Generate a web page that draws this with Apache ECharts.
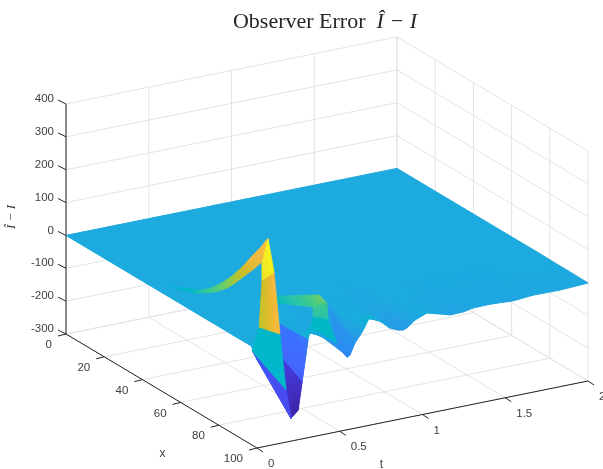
<!DOCTYPE html>
<html><head><meta charset="utf-8">
<style>html,body{margin:0;padding:0;background:#fff}#c{width:603px;height:469px}</style>
<script src="https://cdn.jsdelivr.net/npm/echarts@6/dist/echarts.min.js"></script>
</head><body><div id="c"></div>
<script>
// ---- axis ticks ----
const tTicks = [0, 0.5, 1, 1.5, 2];
const xTicks = [0, 20, 40, 60, 80, 100];
const zTicks = [-300, -200, -100, 0, 100, 200, 300, 400];
const tLabels = ['0', '0.5', '1', '1.5', '2'];
const xLabels = ['0', '20', '40', '60', '80', '100'];
const zLabels = ['-300', '-200', '-100', '0', '100', '200', '300', '400'];

// ---- surface values: rows follow xGrid, columns follow tGrid ----
const tGrid = [0,.1,.205,.248,.272,.308,.326,.435,.514,.544,.562,.592,.64,.683,.77,.804,.852,.882,.906,.955,1.027,1.106,1.166,1.245,1.305,1.408,1.547,1.668,1.831,2];
const xGrid = [0, 50, 65, 75, 85, 92, 97, 100];
const zGrid = [
 [0,0,0,0,0,0,0,0,0,0,0,0,0,0,0,0,0,0,0,0,0,0,0,0,0,0,0,0,0,0],
 [0,0,0,0,0,0,0,0,0,0,0,0,0,0,0,0,0,0,0,0,0,0,0,0,0,0,0,0,0,0],
 [0,0,0,0,0,0,0,0,0,0,0,0,0,0,0,0,0,0,0,0,0,0,0,0,0,0,0,0,0,0],
 [0,0,0,0,0,0,0,-1,-2,-3,-3,-2,-1,0,0,-1,-2,-3,-3,-1,0,0,-1,-1,-1,0,-1,0,0,0],
 [0,0,0,0,0,0,0,-3,-8,-10,-10,-8,-3,2,0,-4,-8,-10,-10,-3,0,-2,-4,-4,-2,-2,-3,-1,-2,-1],
 [0,0,0,0,0,0,0,-8,-20,-25,-25,-15,-5,6,0,-8,-15,-18,-17,-5,0,-3,-8,-7,-4,-3,-5,-3,-3,-1],
 [0,0,0,0,0,0,10,-15,-40,-50,-48,-30,-8,16,0,-14,-24,-26,-24,-7,3,-4,-12,-11,-6,-5,-8,-4,-5,-2],
 [-32,-128,-230,-210,-127,-3,35,-22,-60,-79,-74,-41,-9,32,2,-17,-28,-31,-27,-8,6,-5,-14,-13,-7,-6,-10,-5,-6,-2]
];

// ---- crest running along x near the start: [x, t, z, colour value] ----
const crestBack = [[39,.136,-14,0],[46.3,.136,-10,18],[56.8,.136,17,55],[61,.136,34,80],[65.2,.136,55,110],[70.4,.136,88,135],[75.7,.136,128,165],[80.9,.136,173,205],[86.1,.136,225,240],[90.3,.136,264,245],[94,.136,304,250]];
const crestFront = [[47.5,.08,0,0],[47.5,.08,0,10],[58,.08,21,38],[62.2,.08,32,62],[66.9,.08,49,90],[72.1,.08,71,118],[77.4,.08,100,143],[81.6,.08,130,168],[85.8,.08,163,190],[90.5,.08,200,215],[95.7,.08,243,235]];

// ---- coarse facets of the two large spikes: each is four [x, t, z, colour value] ----
const spikeFacets = [
 // second spike
 [[94,.492,70,-30],[100,.592,-41,-35],[100,.544,-79,-60],[94,.553,-58,-55]],
 [[94,.19,122,50],[94,.444,99.5,135],[94,.408,66.6,100],[94,.19,101,45]],
 [[94,.444,99.5,143],[94,.492,70,120],[94,.408,66.6,110],[94,.408,66.6,110]],
 [[94,.408,66.6,100],[94,.492,70,100],[94,.498,18,75],[94,.408,36,75]],
 [[94,.408,36,38],[94,.498,18,38],[94,.553,-58,30],[100,.326,35,38]],
 // first spike
 [[94,.208,35,-90],[100,.308,-3,-90],[100,.272,-127,-120],[94,.227,-76,-110]],
 [[94,.208,35,-90],[94,.227,-76,-100],[94,.245,-169,-100],[94,.208,5,-90]],
 [[94,.227,-76,-175],[100,.272,-127,-195],[100,.248,-210,-225],[100,.205,-230,-215]],
 [[94,.227,-76,-175],[100,.205,-230,-215],[94,.245,-169,-190],[94,.245,-169,-190]],
 [[88,.109,-57,-140],[94,.245,-169,-150],[100,.205,-230,-150],[100,.205,-230,-150]],
 [[88,.151,11,38],[94,.208,5,30],[94,.245,-169,30],[88,.109,-57,35]],
 [[88,.169,152,195],[94,.172,197,235],[94,.208,5,240],[88,.151,11,185]],
 [[94,.136,301,325],[94,.172,197,315],[88,.169,152,300],[88,.169,204,300]]
];

const colourMin = -220, colourMax = 330;
const parula = [[.2422,.1504,.6603],[.2504,.165,.7076],[.2578,.1818,.7511],[.2647,.1978,.7952],[.2706,.2147,.8364],[.2751,.2342,.871],[.2783,.2559,.8991],[.2803,.2782,.9221],[.2813,.3006,.9414],[.281,.3228,.9579],[.2795,.3447,.9717],[.276,.3667,.9829],[.2699,.3892,.9906],[.2602,.4123,.9952],[.244,.4358,.9988],[.2206,.4603,.9973],[.1963,.4847,.9892],[.1834,.5074,.9798],[.1786,.5289,.9682],[.1764,.5499,.952],[.1687,.5703,.9359],[.154,.5902,.9218],[.146,.6091,.9079],[.138,.6276,.8973],[.1248,.6459,.8883],[.1113,.6635,.8763],[.0952,.6798,.8598],[.0689,.6948,.8394],[.0297,.7082,.8163],[.0036,.7203,.7917],[.0067,.7312,.766],[.0433,.7411,.7394],[.0964,.75,.712],[.1408,.7584,.6842],[.1717,.767,.6554],[.1938,.7758,.6251],[.2161,.7843,.5923],[.247,.7918,.5567],[.2906,.7973,.5188],[.3406,.8008,.4789],[.3909,.8029,.4354],[.4456,.8024,.3909],[.5044,.7993,.348],[.5616,.7942,.3045],[.6174,.7876,.2612],[.672,.7793,.2227],[.7242,.7698,.191],[.7738,.7598,.1646],[.8203,.7498,.1535],[.8634,.7406,.1596],[.9035,.733,.1774],[.9393,.7288,.21],[.9728,.7298,.2394],[.9956,.7434,.2371],[.997,.7659,.2199],[.9952,.7893,.2028],[.9892,.8136,.1885],[.9786,.8386,.1766],[.9676,.8639,.1643],[.961,.889,.1537],[.9597,.9135,.1423],[.9628,.9373,.1265],[.9691,.9606,.1064],[.9769,.9839,.0805]];

function colourOf(v){
  const s = Math.max(0, Math.min(1, (v - colourMin) / (colourMax - colourMin))) * (parula.length - 1);
  const i = Math.min(parula.length - 2, Math.floor(s)), f = s - i;
  const c = parula[i].map((a, k) => Math.round(255 * (a + (parula[i + 1][k] - a) * f)));
  return 'rgb(' + c.join(',') + ')';
}

// MATLAB-style orthographic view of the (x, t, z) box onto the page plane
function project(x, t, z){
  return [66 + 1.91 * x + 165.5 * t, 334 + 1.14 * x - 33.5 * t - (z + 300) * 0.3286];
}

// ---- facet list, back to front ----
const facets = [];
function addQuad(q, n, w){
  const mix = (a, b, f) => a.map((v, i) => v + (b[i] - v) * f);
  for (let i = 0; i < n; i++) for (let j = 0; j < n; j++) {
    const P = (u, v) => mix(mix(q[0], q[1], u), mix(q[3], q[2], u), v);
    const cs = [P(i / n, j / n), P((i + 1) / n, j / n), P((i + 1) / n, (j + 1) / n), P(i / n, (j + 1) / n)];
    facets.push({pts: cs, c: cs.reduce((s, p) => s + p[3], 0) / 4, w: w});
  }
}
for (let r = 0; r < xGrid.length - 1; r++) {
  for (let k = tGrid.length - 2; k >= 0; k--) {
    const V = (a, b) => [xGrid[a], tGrid[b], zGrid[a][b], zGrid[a][b]];
    addQuad([V(r, k), V(r, k + 1), V(r + 1, k + 1), V(r + 1, k)], r >= 4 ? 3 : 1, 1);
  }
}
for (let i = 0; i < crestBack.length - 1; i++) {
  addQuad([crestBack[i], crestBack[i + 1], crestFront[i + 1], crestFront[i]], 4, 0.6);
}
spikeFacets.forEach(q => addQuad(q, 8, 0.8));

// ---- box lines ----
const gridSegs = [];
tTicks.forEach(t => { gridSegs.push([0, t, -300, 0, t, 400]); gridSegs.push([0, t, -300, 100, t, -300]); });
xTicks.forEach(x => { gridSegs.push([x, 2, -300, x, 2, 400]); gridSegs.push([x, 0, -300, x, 2, -300]); });
zTicks.forEach(z => { gridSegs.push([0, 0, z, 0, 2, z]); gridSegs.push([0, 2, z, 100, 2, z]); });
const axisSegs = [[0, 0, -300, 0, 0, 400], [0, 0, -300, 100, 0, -300], [100, 0, -300, 100, 2, -300]];
const ticks = [];
const labels = [];
const tickFont = '11.5px "Liberation Sans"';
zTicks.forEach((z, i) => { ticks.push([[0, 0, z], -8, -4]); labels.push({at: [0, 0, z], dx: -12, dy: -5, text: zLabels[i], align: 'right'}); });
xTicks.forEach((x, i) => { ticks.push([[x, 0, -300], -8, 2]); labels.push({at: [x, 0, -300], dx: -14, dy: 11, text: xLabels[i], align: 'right'}); });
tTicks.forEach((t, i) => { ticks.push([[100, t, -300], 6, 4]); labels.push({at: [100, t, -300], dx: 11, dy: 16, text: tLabels[i], align: 'left'}); });

const plane = p => project(p[0], p[1], p[2]);
function segSeries(segs, color){
  return {
    type: 'custom', coordinateSystem: 'cartesian2d', silent: true, animation: false, progressive: 0,
    data: segs.map((s, i) => [i]),
    renderItem(params, api){
      const s = segs[api.value(0)];
      const a = api.coord(project(s[0], s[1], s[2])), b = api.coord(project(s[3], s[4], s[5]));
      return {type: 'line', shape: {x1: a[0], y1: a[1], x2: b[0], y2: b[1]}, style: {stroke: color, lineWidth: 1, fill: null}};
    }
  };
}

const option = {
  animation: false,
  backgroundColor: '#fff',
  title: {
    text: '{a|Observer Error  }{b|Î − I}',
    left: 325, top: 6, textAlign: 'center',
    textStyle: {fontWeight: 'normal', rich: {
      a: {fontFamily: 'Liberation Serif', fontWeight: 'normal', fontSize: 22, color: '#262626'},
      b: {fontFamily: 'Liberation Serif', fontWeight: 'normal', fontStyle: 'italic', fontSize: 22, color: '#262626'}
    }}
  },
  grid: {left: 0, right: 0, top: 0, bottom: 0},
  xAxis: {type: 'value', min: 0, max: 603, show: false},
  yAxis: {type: 'value', min: 0, max: 469, inverse: true, show: false},
  series: [
    segSeries(gridSegs, '#e4e4e4'),
    {
      type: 'custom', coordinateSystem: 'cartesian2d', silent: true, animation: false, progressive: 0,
      data: facets.map((f, i) => [i]),
      renderItem(params, api){
        const f = facets[api.value(0)];
        const col = colourOf(f.c);
        return {type: 'polygon', shape: {points: f.pts.map(p => api.coord(plane(p)))}, style: {fill: col, stroke: col, lineWidth: f.w, lineJoin: 'round'}};
      }
    },
    segSeries(axisSegs, '#262626'),
    {
      type: 'custom', coordinateSystem: 'cartesian2d', silent: true, animation: false, progressive: 0,
      data: ticks.map((s, i) => [i]),
      renderItem(params, api){
        const s = ticks[api.value(0)];
        const a = api.coord(plane(s[0]));
        return {type: 'line', shape: {x1: a[0], y1: a[1], x2: a[0] + s[1], y2: a[1] + s[2]}, style: {stroke: '#262626', lineWidth: 1, fill: null}};
      }
    },
    {
      type: 'custom', coordinateSystem: 'cartesian2d', silent: true, animation: false, progressive: 0,
      data: labels.map((s, i) => [i]),
      renderItem(params, api){
        const s = labels[api.value(0)];
        const a = api.coord(plane(s.at));
        return {type: 'text', style: {x: a[0] + s.dx, y: a[1] + s.dy, text: s.text, font: tickFont, fill: '#404040', textAlign: s.align, textVerticalAlign: 'middle'}};
      }
    },
    {
      type: 'custom', coordinateSystem: 'cartesian2d', silent: true, animation: false, progressive: 0,
      data: [[0], [1], [2]],
      renderItem(params, api){
        const i = api.value(0);
        if (i === 0) { const a = api.coord(project(50, 0, -300)); return {type: 'text', style: {x: a[0] + 1, y: a[1] + 63, text: 'x', font: '12px "Liberation Sans"', fill: '#404040', textAlign: 'center', textVerticalAlign: 'middle'}}; }
        if (i === 1) { const a = api.coord(project(100, 1, -300)); return {type: 'text', style: {x: a[0] - 41, y: a[1] + 50, text: 't', font: '12px "Liberation Sans"', fill: '#404040', textAlign: 'center', textVerticalAlign: 'middle'}}; }
        const a = api.coord(project(0, 0, 50));
        return {type: 'text', x: a[0] - 54, y: a[1] - 2, rotation: Math.PI / 2, style: {x: 0, y: 0, text: 'Î − I', font: 'italic 13px "Liberation Serif"', fill: '#333', textAlign: 'center', textVerticalAlign: 'middle'}};
      }
    }
  ]
};
option.title.left = 320;
const chart = echarts.init(document.getElementById('c'), null, {renderer: 'canvas'});
chart.setOption(option);
</script></body></html>
